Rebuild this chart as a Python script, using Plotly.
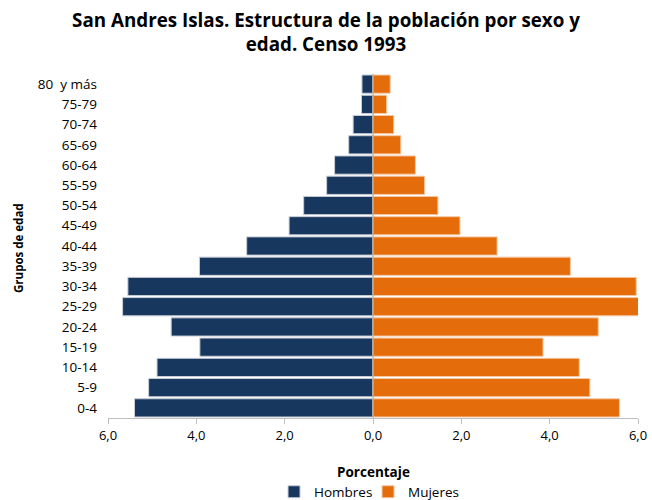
import plotly.graph_objects as go

grupos = ["0-4", "5-9", "10-14", "15-19", "20-24", "25-29", "30-34", "35-39", "40-44",
          "45-49", "50-54", "55-59", "60-64", "65-69", "70-74", "75-79", "80  y más"]
hombres = [5.40, 5.08, 4.89, 3.92, 4.57, 5.67, 5.55, 3.93, 2.86,
           1.90, 1.57, 1.05, 0.87, 0.55, 0.45, 0.26, 0.25]
mujeres = [5.58, 4.91, 4.67, 3.85, 5.10, 6.04, 5.96, 4.47, 2.81,
           1.97, 1.47, 1.17, 0.96, 0.63, 0.47, 0.31, 0.39]
tick_vals = [-6, -4, -2, 0, 2, 4, 6]
tick_text = ["6,0", "4,0", "2,0", "0,0", "2,0", "4,0", "6,0"]

font = "Open Sans"

fig = go.Figure()
fig.add_trace(go.Bar(y=grupos, x=[-v for v in hombres], orientation="h", name="Hombres",
                     marker=dict(color="#17375E", line=dict(color="#C8CDD6", width=1))))
fig.add_trace(go.Bar(y=grupos, x=mujeres, orientation="h", name="Mujeres",
                     marker=dict(color="#E46C0A", line=dict(color="#F5C9A6", width=1))))

fig.update_layout(
    width=652, height=500,
    barmode="relative", bargap=0.1,
    plot_bgcolor="white", paper_bgcolor="white",
    margin=dict(l=108, r=14, t=74, b=82, autoexpand=False),
    font=dict(family=font, size=13, color="#000000"),
    title=dict(text="<b>San Andres Islas. Estructura de la población por sexo y<br>edad. Censo 1993</b>",
               x=0.5, xanchor="center", xref="container", y=0.947, yanchor="middle", yref="container",
               font=dict(family=font, size=18.8, color="#000000")),
    xaxis=dict(range=[-6, 6], tickvals=tick_vals, ticktext=tick_text, automargin=False,
               showgrid=False, zeroline=False, showline=True, linecolor="#BFBFBF",
               ticks="outside", ticklen=5, tickcolor="#BFBFBF",
               tickfont=dict(size=13)),
    yaxis=dict(showgrid=False, zeroline=False, showline=False, ticks="", automargin=False,
               tickfont=dict(size=13.5), ticklabelstandoff=10),
    legend=dict(orientation="h", x=0.4906, xanchor="center", y=-0.215, yanchor="middle",
                font=dict(size=13.5), itemwidth=30, traceorder="normal",
                entrywidth=49, entrywidthmode="pixels"),
    showlegend=True,
    annotations=[
        dict(text="<b>Porcentaje</b>", x=0.5, xref="paper", y=-0.157, yref="paper",
             xanchor="center", yanchor="middle", showarrow=False, font=dict(size=13.5)),
        dict(text="<b>Grupos de edad</b>", x=-0.17, xref="paper", y=0.494, yref="paper",
             xanchor="center", yanchor="middle", showarrow=False, textangle=-90,
             font=dict(size=11.5)),
    ],
)
fig.add_shape(type="line", x0=0, x1=0, y0=0, y1=1, yref="paper",
              line=dict(color="#A6A6A6", width=1))
fig.write_html("out.html", config={"displayModeBar": False},
               post_script="document.body.style.margin='0';")
